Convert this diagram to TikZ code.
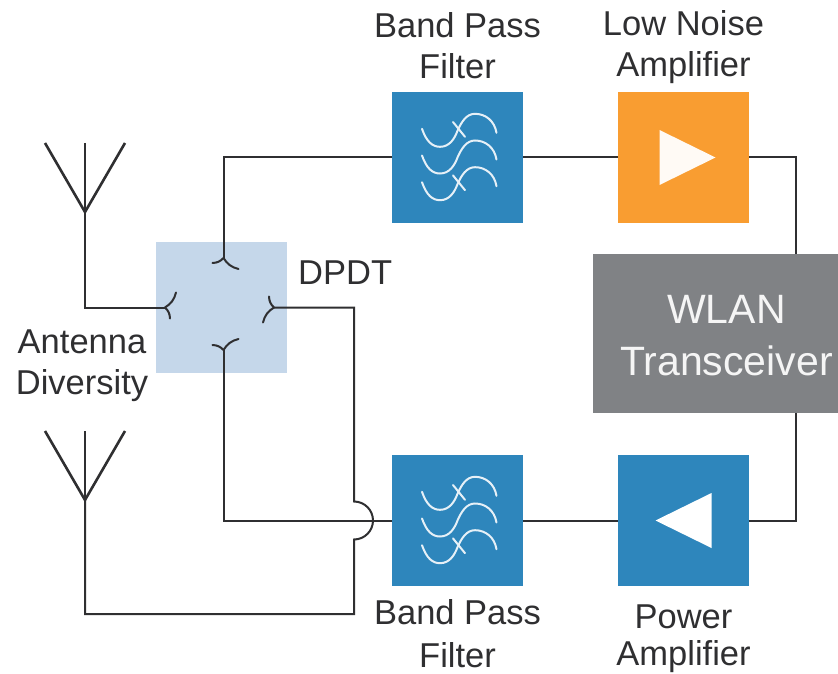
\documentclass[tikz,border=0pt]{standalone}
\usepackage{fontspec}
\setmainfont{Liberation Sans}
\usepackage{xcolor}
\usetikzlibrary{positioning,calc}
\definecolor{bpfblue}{HTML}{2E86BC}
\definecolor{lnaorange}{HTML}{F99D31}
\definecolor{dpdtblue}{HTML}{C5D7EA}
\definecolor{wlangray}{HTML}{808285}
\definecolor{wireink}{HTML}{2F2F31}
\begin{document}
\begin{tikzpicture}[
  x=1pt,y=1pt,
  node distance=95pt and 95pt,
  box/.style={minimum size=131pt,inner sep=0pt,outer sep=0pt},
  lbl/.style={align=center,text=wireink,inner sep=0pt,font=\fontsize{34.5}{41}\selectfont},
  wire/.style={draw=wireink,line width=2pt,line join=miter},
  aerial/.style={draw=wireink,line width=2.6pt},
  wave/.style={draw=white!88!bpfblue,line width=2pt,line cap=round},
  fork/.pic={
    \draw[wire,line cap=round] (0,0) to[bend left=22] (-11,-5);
    \draw[wire,line cap=round] (0,0) to[bend right=22] (15,-11);
  },
  filterwave/.pic={
    \foreach \dy in {26.7,-26.7}
      \draw[wave] (-4.5,8.8+\dy) -- (7.5,-6+\dy);
    \foreach \dy in {26.7,0,-26.7}
      \draw[wave] (-35.5,2+\dy) .. controls (-31,-11+\dy) and (-25,-16+\dy) .. (-17.5,-16+\dy)
        .. controls (-8,-16+\dy) and (-3,-8+\dy) .. (0,0+\dy)
        .. controls (4,9+\dy) and (9,17+\dy) .. (17.5,17+\dy)
        .. controls (28,17+\dy) and (37,10+\dy) .. (39,-2+\dy);
  }]
  \useasboundingbox (0,0) rectangle (838,-674);
  \node[box,fill=bpfblue] (bpfrx) at (457.5,-157.5) {};
  \node[box,fill=lnaorange,right=of bpfrx] (lna) {};
  \node[box,fill=bpfblue] (bpftx) at (457.5,-520.5) {};
  \node[box,fill=bpfblue,right=of bpftx] (pa) {};
  \node[box,fill=dpdtblue] (dpdt) at (221.5,-307.5) {};
  \node[fill=wlangray,minimum width=245pt,minimum height=159pt,inner sep=0pt,outer sep=0pt] (wlan) at (715.5,-333.5) {};
  % labels
  \node[align=center,inner sep=0pt,text=white!92!wlangray,font=\fontsize{41}{52}\selectfont] (wlanlbl) at (726.5,-336) {WLAN\\Transceiver};
  \node[lbl,above=13pt of bpfrx] (bpfrxlbl) {Band Pass\\Filter};
  \node[lbl,above=8pt of lna] (lnalbl) {Low Noise\\Amplifier};
  \node[lbl,below=13pt of bpftx,font=\fontsize{34.5}{43}\selectfont] (bpftxlbl) {Band Pass\\Filter};
  \node[lbl,below=19pt of pa,font=\fontsize{34.5}{37}\selectfont] (palbl) {Power\\Amplifier};
  \node[lbl,right=11pt of dpdt,yshift=35pt] (dpdtlbl) {DPDT};
  \node[lbl] (divlbl) at (82,-366) {Antenna\\Diversity};
  % switch contacts
  \coordinate (forktop) at ($(dpdt.center)+(2,49.5)$);
  \coordinate (forkbot) at ($(dpdt.center)+(2,-42.5)$);
  \coordinate (forkleft) at ($(dpdt.center)+(-56.5,0)$);
  \coordinate (forkright) at ($(dpdt.center)+(52.5,0)$);
  \pic at (forktop) {fork};
  \pic[yscale=-1] at (forkbot) {fork};
  \pic[rotate=90] at (forkleft) {fork};
  \pic[rotate=-90] at (forkright) {fork};
  % antennas
  \coordinate (antup) at (85,-212);
  \coordinate (antlow) at (85,-500);
  \foreach \a in {antup,antlow}{
    \draw[aerial] ($(\a)+(-40,69)$) -- (\a) -- ($(\a)+(40,69)$);
    \draw[aerial] ($(\a)+(0,69)$) -- (\a);
  }
  % rf paths
  \draw[wire] (bpfrx.west) -| (forktop);
  \draw[wire] (bpfrx) -- (lna);
  \draw[wire] (lna.east) -| (wlan.north -| 796,0);
  \draw[wire] (wlan.south -| 796,0) |- (pa.east);
  \draw[wire] (pa) -- (bpftx);
  \draw[wire] (bpftx.west) -| (forkbot);
  \draw[wire] (antup) |- (forkleft);
  \coordinate (hopin) at ($(bpftx.west)+(-38,19)$);
  \draw[wire] (forkright) -| (hopin) arc (90:-90:19) |- (antlow |- 0,-614) -- (antlow);
  % amplifier triangles
  \fill[white!95!lnaorange] ($(lna.center)+(-24,27.5)$) -- ($(lna.center)+(32,0)$) -- ($(lna.center)+(-24,-27.5)$) -- cycle;
  \fill[white] ($(pa.center)+(28,27.5)$) -- ($(pa.center)+(-28,0)$) -- ($(pa.center)+(28,-27.5)$) -- cycle;
  % filter waves
  \pic at (bpfrx.center) {filterwave};
  \pic at (bpftx.center) {filterwave};
\end{tikzpicture}
\end{document}
